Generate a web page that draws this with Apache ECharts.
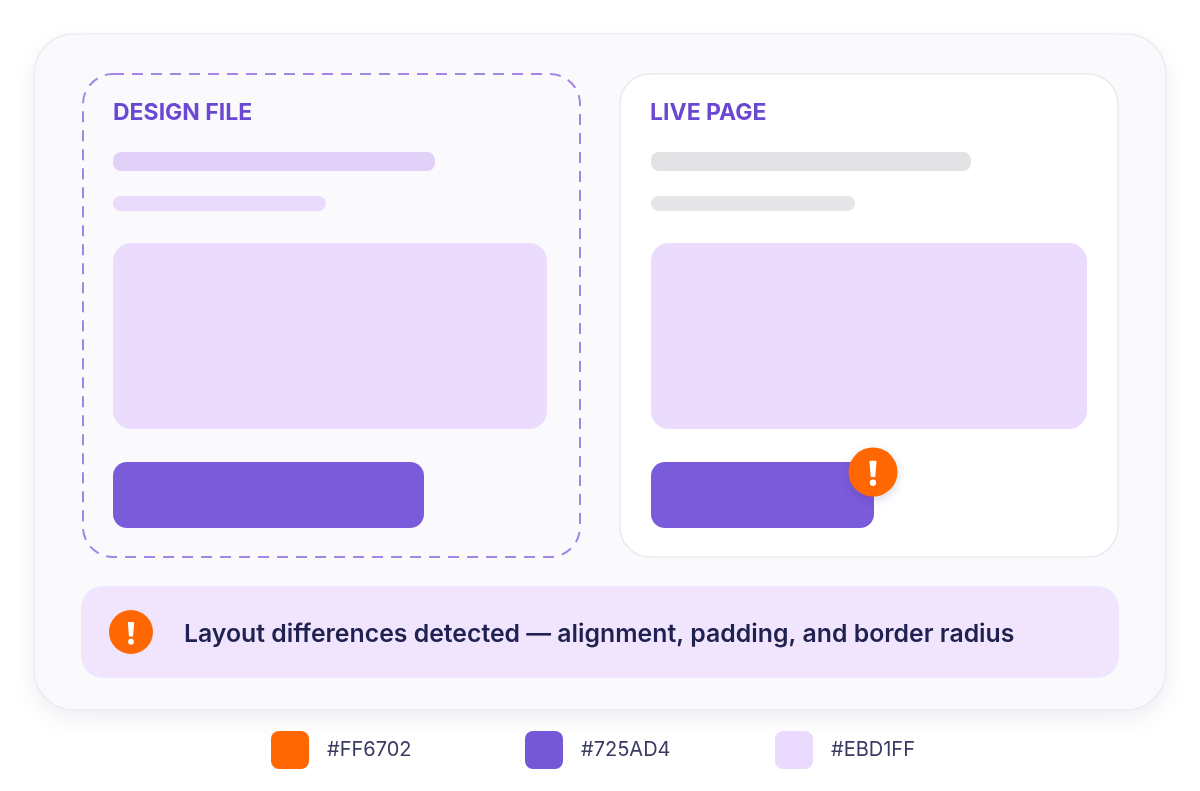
<!DOCTYPE html>
<html><head><meta charset="utf-8">
<style>html,body{margin:0;padding:0;background:#fff}#c{width:1200px;height:791px}</style>
<script src="https://cdn.jsdelivr.net/npm/echarts@6/dist/echarts.min.js"></script>
</head><body><div id="c"></div>
<script>
const panelTitles = ['DESIGN FILE', 'LIVE PAGE'];
const alertText = 'Layout differences detected — alignment, padding, and border radius';
const legendColors = ['#FF6702', '#725AD4', '#EBD1FF'];
const legendLabels = ['#FF6702', '#725AD4', '#EBD1FF'];

const FONT = 'Inter, "Noto Sans", sans-serif';
const ORANGE = '#FF6702';
const box = (x0, y0, x1, y1, r, style, z) => ({
  type: 'rect', z: z || 1,
  shape: {x: x0, y: y0, width: x1 - x0, height: y1 - y0, r},
  style
});
const label = (x, y, text, font, weight, fill, z) => ({
  type: 'text', z: z || 5, x, y,
  style: {text, fontFamily: FONT, fontSize: font, fontWeight: weight, fill, textVerticalAlign: 'middle', textAlign: 'left'}
});
function alertIcon(cx, cy, r, shadow, z) {
  const k = r / 24;
  return [
    {type: 'circle', z, shape: {cx, cy, r}, style: Object.assign({fill: ORANGE}, shadow ? {shadowBlur: 10, shadowColor: 'rgba(60,40,120,0.20)', shadowOffsetY: 3} : {})},
    {type: 'polygon', z: z + 1, shape: {points: [[cx - 2.4 * k, cy - 10 * k], [cx + 2.4 * k, cy - 10 * k], [cx + 1.3 * k, cy + 4 * k], [cx - 1.3 * k, cy + 4 * k]]},
      style: {fill: '#fff', stroke: '#fff', lineWidth: 2 * k, lineJoin: 'round'}},
    {type: 'circle', z: z + 1, shape: {cx, cy: cy + 10.5 * k, r: 3.1 * k}, style: {fill: '#fff'}}
  ];
}

const legendLayout = [[271, 327], [525, 581], [775, 831]];
const swatchFill = {'#725AD4': '#7558D6', '#EBD1FF': '#EADBFE'};
const elements = [
  box(34, 34, 1166, 710, 40, {fill: '#FAFAFD', stroke: '#ECEBF3', lineWidth: 1.6, shadowBlur: 24, shadowColor: 'rgba(70,60,130,0.08)', shadowOffsetY: 9}, 1),
  // design panel
  box(83, 74, 580, 557, 30, {fill: '#FAFAFD', stroke: '#A385E8', lineWidth: 2, lineDash: [11, 8]}, 2),
  label(113, 113, panelTitles[0], 23, 700, '#6A48D2'),
  box(113, 152, 435, 171, 8, {fill: '#E1D1F9'}, 3),
  box(113, 196, 326, 211, 7.5, {fill: '#E9DBFC'}, 3),
  box(113, 243, 547, 429, 18, {fill: '#EBDCFE'}, 3),
  box(113, 462, 424, 528, 14, {fill: '#7A5BDA'}, 3),
  // live panel
  box(620, 74, 1118, 557, 30, {fill: '#FFFFFF', stroke: '#EAEAF1', lineWidth: 1.6}, 2),
  label(650, 113, panelTitles[1], 23, 700, '#6A48D2'),
  box(651, 152, 971, 171, 8, {fill: '#E3E3E5'}, 3),
  box(651, 196, 855, 211, 7.5, {fill: '#E6E6E8'}, 3),
  box(651, 243, 1087, 429, 18, {fill: '#EBDCFE'}, 3),
  box(651, 462, 874, 528, 14, {fill: '#7A5BDA'}, 3),
  ...alertIcon(873, 472, 24.5, true, 6),
  // alert bar
  box(81, 586, 1119, 678, 22, {fill: '#F1E5FD'}, 2),
  ...alertIcon(131, 632, 22, false, 6),
  label(184, 634.5, alertText, 24.8, 600, '#1F2250')
];
legendColors.forEach((color, i) => {
  const [sx, tx] = legendLayout[i];
  elements.push(box(sx, 731, sx + 38, 769, 8, {fill: swatchFill[color] || color}, 3));
  elements.push(label(tx, 750, legendLabels[i], 20, 400, '#3A3A62'));
});

const chart = echarts.init(document.getElementById('c'), null, {renderer: 'canvas'});
chart.setOption({animation: false, backgroundColor: '#FFFFFF', graphic: {elements}});
</script></body></html>
